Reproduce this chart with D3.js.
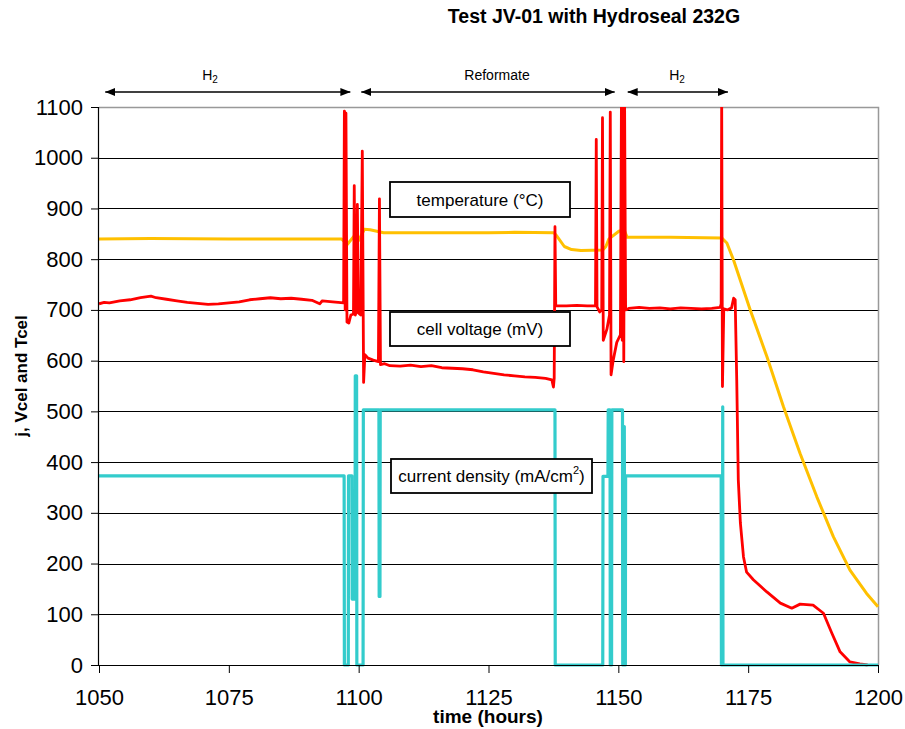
<!DOCTYPE html>
<html>
<head>
<meta charset="utf-8">
<script src="https://cdn.jsdelivr.net/npm/d3@7"></script>
<style>
  body { margin: 0; background: #fff; }
  svg { display: block; font-family: "Liberation Sans", Arial, sans-serif; }
</style>
</head>
<body>
<script>
// readings taken off the chart: [time (h), value]
const temperature = [
  [1050,840],[1060,841],[1075,840],[1090,840],[1096.7,840],[1097.8,829],[1099.3,848],[1100,837],
  [1101.1,859],[1102.2,858],[1104.8,852],[1115,852],[1125,852],[1130,853],[1137.6,852],[1138.2,845],
  [1139.6,825],[1141,819],[1142.8,817],[1147,818],[1147.6,825],[1148.2,840],[1150.1,855],[1151.1,858],
  [1151.7,843],[1160,843],[1169.9,842],[1170.9,832],[1172.2,798],[1175.4,700],[1178.6,608],[1181.8,509],
  [1185,417],[1188.2,332],[1191.4,253],[1194.6,187],[1197.8,141],[1200,115]
];

const cellVoltage = [
  [1050,712],[1051,715],[1052,714],[1054,718],[1056,720],[1058,724],[1060,727],[1061,724],[1063,721],
  [1065,718],[1067,715],[1069,713],[1071,711],[1073,712],[1075,714],[1077,716],[1079,720],[1081,722],
  [1083,724],[1085,722],[1087,723],[1089,721],[1091,719],[1092.5,712],[1093,718],[1095,716],[1097.1,714],
  [1097.25,1092],[1097.4,700],[1097.55,1088],[1097.75,676],[1098.1,674],[1098.5,690],[1099,692],
  [1099.15,945],[1099.35,690],[1099.6,698],[1099.75,908],[1099.95,694],[1100.4,690],[1100.7,1013],
  [1100.95,557],[1101.2,612],[1101.8,605],[1102.8,601],[1103.8,598],[1104,919],[1104.2,592],
  [1105,594],[1106,590],[1108,589],[1110,591],[1112,588],[1114,590],[1116,586],[1118,585],[1120,584],
  [1122,582],[1124,578],[1126,575],[1128,572],[1130,570],[1132,568],[1134,567],[1136,565],[1137.2,562],
  [1137.5,548],[1137.65,565],[1137.8,864],[1137.95,708],[1140,708],[1142,709],[1144,708],[1145.6,708],
  [1145.75,1036],[1145.9,706],[1146.4,696],[1146.8,700],[1146.95,1079],[1147.1,640],[1147.8,662],
  [1148.3,690],[1148.45,1090],[1148.6,572],[1149,600],[1149.7,636],[1150.4,651],[1150.6,1120],
  [1150.75,640],[1150.9,1120],[1151.05,598],[1151.2,1120],[1151.4,700],[1152,703],[1154,705],[1156,703],
  [1158,704],[1160,702],[1162,704],[1164,703],[1166,702],[1168,703],[1169.6,705],[1169.8,712],
  [1169.9,1120],[1170.05,549],[1170.3,702],[1171,700],[1171.8,704],[1172.2,723],[1172.5,720],
  [1172.8,562],[1173.1,365],[1173.5,280],[1174.1,213],[1174.7,183],[1176,168],[1178.6,144],[1181.2,122],
  [1183.4,112],[1185,120],[1187.5,118],[1189.5,102],[1191.1,63],[1192.7,26],[1194.6,6],[1196.5,2],[1198,0]
];

const currentDensity = [
  [1050,373],[1097.2,373],[1097.25,0],[1098,0],[1098.05,373],[1098.7,373],[1098.75,130],[1099.3,130],
  [1099.35,570],[1099.6,570],[1099.65,0],[1100.85,0],[1100.9,503],[1103.9,503],[1103.95,135],[1104.1,135],
  [1104.15,503],[1137.8,503],[1137.85,0],[1147,0],[1147.05,372],[1148,372],[1148.05,503],[1148.4,503],
  [1148.45,0],[1148.7,0],[1148.75,503],[1150.8,503],[1150.85,0],[1151.1,0],[1151.15,470],[1151.25,0],
  [1151.35,0],[1151.4,373],[1169.8,373],[1169.85,0],[1170.05,0],[1170.1,509],[1170.15,0],[1200,0]
];

const xTicks = [1050, 1075, 1100, 1125, 1150, 1175, 1200];
const yTicks = [0, 100, 200, 300, 400, 500, 600, 700, 800, 900, 1000, 1100];

const phaseLabels = ["H", "Reformate", "H"];
const phaseSub = ["2", "", "2"];
const phaseStart = [1051.2, 1100.5, 1151.8];
const phaseEnd = [1098.4, 1149.3, 1171.1];

const seriesLabels = ["temperature (°C)", "cell voltage (mV)", "current density (mA/cm"];

const W = 905, H = 729;
const svg = d3.select("body").append("svg").attr("width", W).attr("height", H);

const x = d3.scaleLinear().domain([1050, 1200]).range([99, 878]);
const y = d3.scaleLinear().domain([0, 1100]).range([665, 107]);

// title
svg.append("text")
  .attr("x", 594).attr("y", 23)
  .attr("text-anchor", "middle")
  .attr("font-weight", "bold").attr("font-size", 19.5)
  .text("Test JV-01 with Hydroseal 232G");

// gridlines
svg.append("g").selectAll("line")
  .data(yTicks.filter(d => d > 0 && d < 1100))
  .join("line")
  .attr("x1", x(1050)).attr("x2", x(1200))
  .attr("y1", d => Math.round(y(d)) + 0.5).attr("y2", d => Math.round(y(d)) + 0.5)
  .attr("stroke", "#000").attr("stroke-width", 1);

// plot border top/right
svg.append("path")
  .attr("d", `M${x(1050)},${Math.round(y(1100)) + 0.5}H${Math.round(x(1200)) + 0.5}V${y(0)}`)
  .attr("fill", "none").attr("stroke", "#999").attr("stroke-width", 1.5);

// clip
svg.append("clipPath").attr("id", "plot")
  .append("rect").attr("x", x(1050)).attr("y", y(1100)).attr("width", x(1200) - x(1050) + 2).attr("height", y(0) - y(1100) + 2);

const line = d3.line().x(d => x(d[0])).y(d => y(d[1]));
const plot = svg.append("g").attr("clip-path", "url(#plot)");

plot.append("path").datum(temperature).attr("d", line)
  .attr("fill", "none").attr("stroke", "#FFC000").attr("stroke-width", 3).attr("stroke-linejoin", "round");
plot.append("path").datum(cellVoltage).attr("d", line)
  .attr("fill", "none").attr("stroke", "#FF0000").attr("stroke-width", 2.8).attr("stroke-linejoin", "round");
plot.append("path").datum(currentDensity).attr("d", line)
  .attr("fill", "none").attr("stroke", "#33CCCC").attr("stroke-width", 3.2).attr("stroke-linejoin", "round");

// axes
const yAxis = svg.append("g").attr("transform", `translate(${x(1050)},0)`)
  .call(d3.axisLeft(y).tickValues(yTicks).tickSize(8).tickPadding(8).tickFormat(d3.format("d")));
const xAxis = svg.append("g").attr("transform", `translate(0,${y(0)})`)
  .call(d3.axisBottom(x).tickValues(xTicks).tickSize(8).tickPadding(16).tickFormat(d3.format("d")));
[yAxis, xAxis].forEach(a => {
  a.select(".domain").attr("stroke", "#000").attr("stroke-width", 1.2);
  a.selectAll(".tick line").attr("stroke", "#000");
  a.selectAll(".tick text").attr("font-size", 22).attr("fill", "#000")
    .attr("font-family", "Liberation Sans, Arial, sans-serif");
});
xAxis.select(".domain").attr("d", `M${x(1050)},0.5H${x(1200)}`);
yAxis.select(".domain").attr("d", `M-0.5,${y(1100)}V${y(0)}`);

// axis titles
svg.append("text")
  .attr("x", 488).attr("y", 723)
  .attr("text-anchor", "middle").attr("font-weight", "bold").attr("font-size", 19)
  .text("time (hours)");
svg.append("text")
  .attr("transform", "translate(27,376) rotate(-90)")
  .attr("text-anchor", "middle").attr("font-weight", "bold").attr("font-size", 17)
  .text("j, Vcel and Tcel");

// phase arrows
svg.append("defs").append("marker")
  .attr("id", "ah").attr("viewBox", "0 0 10 8").attr("refX", 10).attr("refY", 4)
  .attr("markerWidth", 10).attr("markerHeight", 8).attr("markerUnits", "userSpaceOnUse")
  .attr("orient", "auto-start-reverse")
  .append("path").attr("d", "M0,0L10,4L0,8Z").attr("fill", "#000");

phaseLabels.forEach((lab, i) => {
  svg.append("line")
    .attr("x1", x(phaseStart[i])).attr("x2", x(phaseEnd[i]))
    .attr("y1", 92).attr("y2", 92)
    .attr("stroke", "#000").attr("stroke-width", 1.3)
    .attr("marker-start", "url(#ah)").attr("marker-end", "url(#ah)");
  const cx = i === 0 ? 210 : (i === 1 ? 497 : 677);
  const t = svg.append("text").attr("x", cx).attr("y", 80)
    .attr("text-anchor", "middle").attr("font-size", 14).text(lab);
  if (phaseSub[i]) t.append("tspan").attr("font-size", 10).attr("dy", 3).text(phaseSub[i]);
});

// series label boxes
const boxes = [
  { x: 390, y: 182, w: 180, h: 35 },
  { x: 390, y: 312, w: 180, h: 34 },
  { x: 391, y: 459, w: 201, h: 34 }
];
boxes.forEach((b, i) => {
  svg.append("rect").attr("x", b.x).attr("y", b.y).attr("width", b.w).attr("height", b.h)
    .attr("fill", "#fff").attr("stroke", "#000").attr("stroke-width", 1.8);
  const t = svg.append("text").attr("x", b.x + b.w / 2).attr("y", b.y + b.h / 2 + 6)
    .attr("text-anchor", "middle").attr("font-size", 17).text(seriesLabels[i]);
  if (i === 2) {
    t.append("tspan").attr("font-size", 11).attr("dy", -8).text("2");
    t.append("tspan").attr("dy", 8).text(")");
  }
});
</script>
</body>
</html>
